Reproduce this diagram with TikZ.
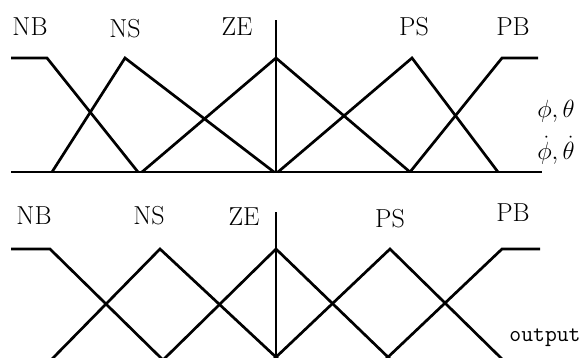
\documentclass[tikz,border=0pt]{standalone}
\begin{document}
\begin{tikzpicture}[x=1pt,y=-1pt,
  mf/.style={line width=2.7pt,line join=miter},
  axisline/.style={line width=1.2pt},
  lab/.style={font=\fontsize{26}{30}\selectfont,inner sep=0pt},
  varlab/.style={font=\fontsize{24}{28}\selectfont,inner sep=0pt},
  outlab/.style={font=\fontsize{23}{27}\selectfont\ttfamily,inner sep=0pt}]
\useasboundingbox (0,0) rectangle (584,357);
\fill[white] (0,0) rectangle (584,357);
% ---------- top chart ----------
\draw[mf] (11,172) -- (542,172);
\draw[axisline] (276,20) -- (276,172);
\draw[mf] (11,58) -- (47,58) -- (138,172);
\draw[mf] (52,172) -- (125,58) -- (274,172);
\draw[mf] (142,172) -- (276,58) -- (410,172);
\draw[mf] (278,172) -- (412,58) -- (498,172);
\draw[mf] (410,172) -- (502,58) -- (538,58);
\node[lab] (tnb) at (30,27) {NB};
\node[lab] (tns) at (125,29) {NS};
\node[lab] (tze) at (237,27) {ZE};
\node[lab] (tps) at (414,27) {PS};
\node[lab] (tpb) at (513,27) {PB};
\node[varlab] (v1) at (556,111) {$\phi,\theta$};
\node[varlab] (v2) at (556,150) {$\dot\phi,\dot\theta$};
% ---------- bottom chart ----------
\draw[axisline] (276,212) -- (276,360);
\draw[mf] (11,249) -- (50,249) -- (162,359);
\draw[mf] (52,359) -- (160,249) -- (278,359);
\draw[mf] (164,359) -- (276,249) -- (390,359);
\draw[mf] (274,359) -- (390,249) -- (502,359);
\draw[mf] (386,359) -- (502,249) -- (540,249);
\node[lab] (bnb) at (34,216) {NB};
\node[lab] (bns) at (149,216) {NS};
\node[lab] (bze) at (244,217) {ZE};
\node[lab] (bps) at (390,219) {PS};
\node[lab] (bpb) at (513,213) {PB};
\node[outlab] (out) at (545,338) {output};
\end{tikzpicture}
\end{document}
